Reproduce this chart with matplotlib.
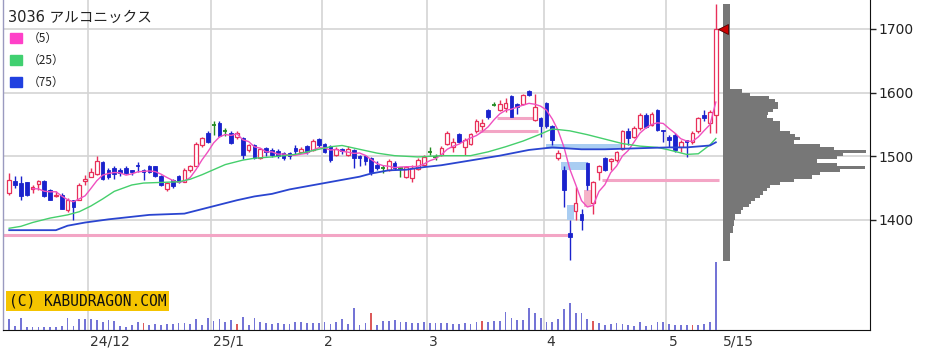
import numpy as np
import pandas as pd
import matplotlib
matplotlib.use("Agg")
import matplotlib.pyplot as plt
from matplotlib.patches import Rectangle
import matplotlib.transforms as mtransforms

plt.rcParams['font.family'] = ['DejaVu Sans', 'Noto Sans CJK JP']

title = '3036 アルコニックス'

# daily OHLC, 2024/11 .. 2025/5/15
opens = [1442, 1461, 1458, 1459, 1449, 1457, 1461, 1447, 1437, 1440,
         1415, 1431, 1432, 1462, 1468, 1472, 1491, 1478, 1481, 1478,
         1481, 1478, 1486, 1478, 1485, 1484, 1469, 1448, 1463, 1469,
         1460, 1478, 1485, 1518, 1537, 1549, 1553, 1539, 1537, 1531,
         1528, 1510, 1518, 1497, 1513, 1510, 1509, 1505, 1505, 1513,
         1507, 1516, 1510, 1527, 1519, 1516, 1502, 1512, 1502, 1510,
         1500, 1500, 1497, 1486, 1481, 1479, 1489, 1481, 1468, 1466,
         1480, 1486, 1507, 1499, 1502, 1519, 1515, 1535, 1515, 1520,
         1539, 1547, 1572, 1581, 1573, 1576, 1595, 1582, 1582, 1603,
         1557, 1560, 1583, 1547, 1498, 1479, 1380, 1414, 1410, 1489,
         1426, 1476, 1497, 1492, 1494, 1512, 1540, 1530, 1544, 1565,
         1549, 1573, 1541, 1531, 1533, 1515, 1525, 1523, 1539, 1565,
         1552, 1565]
highs = [1474, 1469, 1469, 1460, 1455, 1463, 1463, 1448, 1446, 1442,
         1434, 1432, 1458, 1471, 1481, 1500, 1492, 1481, 1484, 1481,
         1485, 1479, 1491, 1480, 1486, 1485, 1470, 1460, 1465, 1471,
         1481, 1487, 1523, 1530, 1539, 1556, 1555, 1544, 1539, 1540,
         1530, 1520, 1520, 1513, 1515, 1513, 1511, 1507, 1507, 1518,
         1514, 1518, 1527, 1528, 1521, 1518, 1514, 1513, 1516, 1512,
         1502, 1502, 1499, 1492, 1486, 1495, 1493, 1483, 1485, 1486,
         1497, 1502, 1515, 1504, 1516, 1539, 1528, 1537, 1528, 1537,
         1558, 1558, 1574, 1586, 1588, 1591, 1596, 1583, 1598, 1604,
         1598, 1562, 1585, 1549, 1510, 1484, 1400, 1452, 1418, 1491,
         1462, 1486, 1499, 1497, 1508, 1541, 1544, 1547, 1568, 1568,
         1570, 1574, 1541, 1533, 1536, 1526, 1526, 1539, 1561, 1573,
         1573, 1739]
lows = [1439, 1451, 1431, 1438, 1442, 1447, 1436, 1431, 1436, 1417,
        1412, 1400, 1431, 1455, 1467, 1471, 1463, 1465, 1465, 1469,
        1472, 1471, 1476, 1463, 1473, 1468, 1453, 1446, 1451, 1458,
        1459, 1476, 1484, 1515, 1521, 1534, 1531, 1532, 1519, 1527,
        1495, 1507, 1495, 1495, 1500, 1499, 1497, 1494, 1495, 1504,
        1505, 1504, 1508, 1515, 1505, 1491, 1500, 1504, 1500, 1481,
        1485, 1486, 1471, 1478, 1473, 1477, 1478, 1468, 1466, 1460,
        1478, 1484, 1502, 1494, 1500, 1518, 1507, 1521, 1502, 1518,
        1536, 1541, 1559, 1579, 1571, 1570, 1561, 1566, 1580, 1595,
        1555, 1531, 1545, 1518, 1494, 1421, 1337, 1400, 1384, 1447,
        1410, 1463, 1477, 1478, 1491, 1510, 1518, 1528, 1542, 1545,
        1547, 1540, 1523, 1515, 1507, 1507, 1499, 1520, 1537, 1556,
        1536, 1536]
closes = [1463, 1455, 1437, 1439, 1452, 1461, 1437, 1432, 1440, 1418,
          1432, 1421, 1455, 1464, 1476, 1492, 1465, 1468, 1472, 1473,
          1474, 1475, 1484, 1476, 1476, 1469, 1455, 1458, 1453, 1460,
          1478, 1485, 1520, 1528, 1523, 1549, 1532, 1539, 1521, 1536,
          1502, 1518, 1497, 1511, 1507, 1502, 1500, 1498, 1500, 1508,
          1511, 1506, 1524, 1518, 1507, 1494, 1511, 1509, 1512, 1497,
          1497, 1492, 1476, 1481, 1481, 1492, 1481, 1481, 1483, 1482,
          1494, 1499, 1507, 1499, 1513, 1537, 1523, 1523, 1526, 1535,
          1556, 1553, 1561, 1581, 1582, 1584, 1562, 1578, 1596, 1596,
          1577, 1547, 1547, 1526, 1505, 1447, 1374, 1426, 1400, 1455,
          1460, 1484, 1478, 1495, 1506, 1539, 1528, 1544, 1565, 1546,
          1567, 1541, 1539, 1525, 1510, 1523, 1523, 1536, 1560, 1560,
          1570, 1700]
volumes = [110, 40, 120, 30, 30, 30, 30, 30, 30, 40,
           120, 40, 110, 110, 110, 100, 80, 100, 90, 40,
           30, 50, 80, 70, 50, 60, 50, 60, 60, 70,
           70, 60, 110, 50, 120, 90, 110, 80, 100, 60,
           130, 50, 120, 80, 70, 60, 70, 60, 60, 80,
           80, 70, 70, 70, 80, 60, 80, 110, 60, 220,
           50, 70, 170, 50, 90, 90, 100, 80, 80, 70,
           70, 80, 70, 70, 70, 70, 60, 60, 70, 60,
           80, 90, 80, 90, 90, 180, 120, 100, 100, 220,
           170, 120, 80, 80, 110, 210, 270, 170, 170, 110,
           90, 70, 50, 60, 70, 60, 50, 40, 80, 40,
           50, 80, 80, 60, 50, 50, 50, 50, 50, 60,
           80, 680]
red_vol_days = [23, 39, 62, 81, 100, 117]

# month gridlines: index of first trading day of each month
month_start = [14, 35, 54, 72, 92, 113]
month_labels = ['24/12', '25/1', '2', '3', '4', '5']
last_label = '5/15'

# moving averages
ma25_idx = [0, 2, 4, 7, 10, 12, 14, 16, 18, 21, 23, 26, 29, 31, 33, 35, 37, 40,
            42, 45, 49, 52, 55, 57, 60, 63, 66, 70, 74, 79, 82, 85, 88, 91, 93,
            96, 99, 102, 105, 108, 111, 113, 116, 118, 120, 121]
ma25_val = [1387, 1390, 1396, 1403, 1408, 1413, 1422, 1433, 1445, 1455, 1458,
            1459, 1460, 1464, 1471, 1479, 1487, 1494, 1497, 1499, 1503, 1509,
            1515, 1517, 1511, 1505, 1501, 1499, 1501, 1501, 1507, 1515, 1524,
            1535, 1543, 1540, 1534, 1527, 1520, 1516, 1514, 1510, 1503, 1504,
            1518, 1528]
ma75_idx = [0, 8, 10, 13, 17, 21, 24, 27, 30, 33, 36, 39, 42, 45, 48, 51, 54,
            60, 62, 65, 68, 71, 74, 78, 84, 89, 93, 98, 102, 109, 113, 116,
            120, 121]
ma75_val = [1384, 1384, 1391, 1396, 1401, 1405, 1408, 1409, 1410, 1417, 1424,
            1431, 1437, 1441, 1448, 1453, 1458, 1468, 1473, 1478, 1479, 1483,
            1486, 1492, 1501, 1510, 1514, 1511, 1511, 1513, 1514, 1514, 1517,
            1522]

# pink price level lines
level_start = [-1, 80.5, 83.5, 101.5]
level_end = [96, 90.5, 90, 121.5]
level_price = [1376, 1539, 1560, 1463]

# open gaps (windows)
gap_start = [92.0, 94.5, 95.6, 98.5]
gap_end = [105.0, 99.0, 96.8, 99.6]
gap_lo = [1511, 1479, 1400, 1420]
gap_hi = [1520, 1491, 1424, 1447]
gap_up = [False, False, False, True]

# volume by price
prof_bins = np.arange(1335, 1740, 5)
prof_vol = [7] * 9 + [10, 10, 11, 11] + \
    [12, 12, 18, 20, 26, 28, 32, 37, 40, 44] + \
    [47, 57, 71, 89, 97, 117, 142, 114, 94, 114] + \
    [120, 144, 111, 97, 71, 77, 72, 67, 57, 57] + \
    [57, 50, 44, 45, 50, 55, 55, 52, 46, 27] + [19] + [7] * 27

UP = '#e8305a'
DN = '#1a22cc'
DOJI = '#228b22'

W, H = 934, 357
fig = plt.figure(figsize=(W / 100, H / 100), dpi=100)
ax = fig.add_axes([3 / W, 27 / H, 867 / W, 330 / H])

n = len(closes)
x = np.arange(n)
o, h, l, c = (np.array(a, dtype=float) for a in (opens, highs, lows, closes))
up = c > o
dn = c < o
dj = c == o

# gaps and level lines under the candles
for s, e, lo, hi, u in zip(gap_start, gap_end, gap_lo, gap_hi, gap_up):
    ax.bar(s, hi - lo, bottom=lo, width=e - s, align='edge',
           color='#f6b3c8' if u else '#a9cdf2', zorder=2)
ax.hlines(level_price, level_start, level_end, color='#f3a5c5', lw=2.2, zorder=2)

ax.vlines(x[up], l[up], h[up], color=UP, lw=1, zorder=3)
ax.vlines(x[dn], l[dn], h[dn], color=DN, lw=1, zorder=3)
ax.vlines(x[dj], l[dj], h[dj], color=DOJI, lw=1, zorder=3)
ax.bar(x[up], (c - o)[up], bottom=o[up], width=0.62, facecolor='white',
       edgecolor=UP, lw=0.9, zorder=4)
ax.bar(x[dn], (o - c)[dn], bottom=c[dn], width=0.62, color=DN,
       edgecolor=DN, lw=0.6, zorder=4)
ax.hlines(c[dj], x[dj] - 0.35, x[dj] + 0.35, color=DOJI, lw=1.3, zorder=4)

ma5 = pd.Series(c).rolling(5).mean()
ax.plot(x, ma5, color='#f050c0', lw=1, zorder=5)
ax.plot(ma25_idx, ma25_val, color='#45cf6c', lw=1, zorder=5)
ax.plot(ma75_idx, ma75_val, color='#2a45d0', lw=1.3, zorder=5)

# volume by price on the right
prof_left = n + 0.2
prof_w = np.array(prof_vol) / max(prof_vol) * 24.6
ax.barh(prof_bins + 2.5, prof_w, height=5, left=prof_left,
        color='#777777', zorder=3)
ax.plot(prof_left, c[-1], marker='<', ms=7, color='#cc0000',
        mec='#550000', mew=0.6, zorder=6)

ax.set_xlim(-1.06, 147.4)
ax.set_ylim(1227.2, 1745.5)

# volume bars
ax2 = ax.twinx()
vcol = ['#dc5a5a' if i in red_vol_days else '#7474d6' for i in range(n)]
ax2.bar(x, volumes, width=0.3, color=vcol)
ax2.set_ylim(0, max(volumes) * 330 / 68)
ax2.set_xlim(-1.06, 147.4)
ax2.axis('off')

ax.yaxis.tick_right()
ax.set_yticks([1400, 1500, 1600, 1700])
ax.tick_params(axis='y', right=True, left=False, labelright=True,
               labelleft=False, length=4, width=1, labelsize=10, pad=2,
               colors='#222222')
ax.set_xticks(np.array(month_start) - 0.5)
ax.set_xticklabels([])
ax.tick_params(axis='x', length=0)
ax.grid(True, color='#d4d4d4', lw=1.2)
ax.set_axisbelow(True)
ax.spines['top'].set_visible(False)
ax.spines['left'].set_color('#9a9ac0')
ax.spines['left'].set_linewidth(1)
ax.spines['bottom'].set_color('#111111')
ax.spines['right'].set_color('#111111')

trans = mtransforms.blended_transform_factory(ax.transData, ax.transAxes)
for ms, lab in zip(month_start, month_labels):
    ax.text(ms - 0.1, -0.035, lab, transform=trans, ha='left', va='center',
            fontsize=10, color='#333333')
ax.text(prof_left, -0.035, last_label, transform=trans, ha='left',
        va='center', fontsize=10, color='#333333')

# title, legend and credit
def px(xp, yp):
    return xp / W, 1 - yp / H

fig.text(*px(8, 17), title, fontsize=10.5, va='center', color='#222222')
for k, (lab, col) in enumerate([('（5）', '#ff40c8'), ('（25）', '#40d070'),
                                 ('（75）', '#2040e0')]):
    yc = 38 + 22 * k
    fig.add_artist(Rectangle(px(10, yc + 5), 12 / W, 10 / H, color=col,
                             transform=fig.transFigure))
    fig.text(*px(28, yc), lab, fontsize=8.5, va='center', color='#222222',
             family=['Noto Sans CJK JP', 'DejaVu Sans'])

fig.text(*px(9, 301), '(C) KABUDRAGON.COM', family='DejaVu Sans Mono',
         fontsize=10.5, va='center', color='#111111',
         bbox=dict(boxstyle='square,pad=0.2', fc='#f5c400', ec='none'))

fig.savefig('out.png', dpi=100)
